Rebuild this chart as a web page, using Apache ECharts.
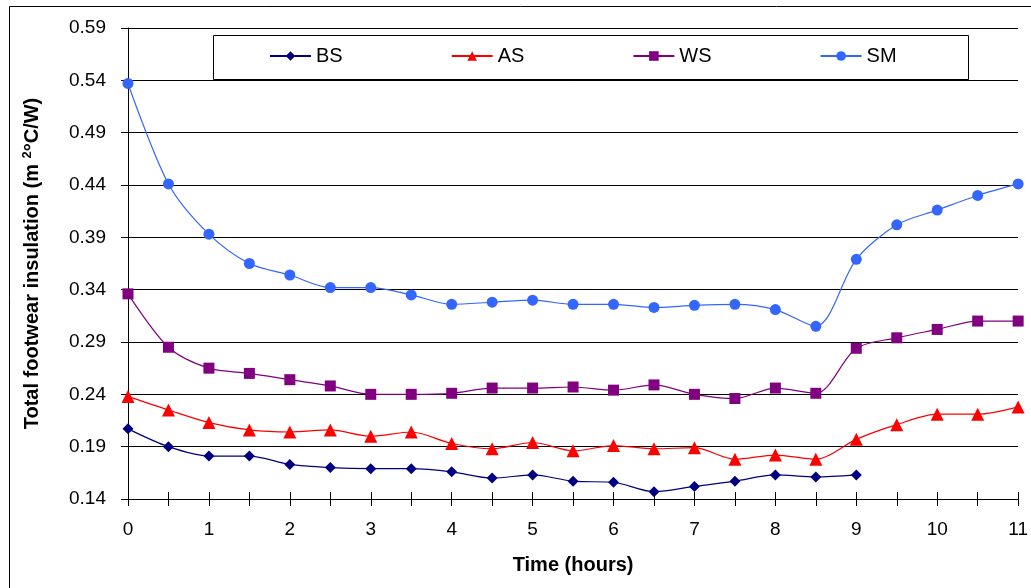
<!DOCTYPE html>
<html>
<head>
<meta charset="utf-8">
<script src="https://cdn.jsdelivr.net/npm/echarts@6/dist/echarts.min.js"></script>
<style>
  html, body { margin: 0; padding: 0; background: #fff; }
  #main { width: 1031px; height: 588px; }
</style>
</head>
<body>
<div id="main"></div>
<script>
// time in hours
var hours = [0, 0.5, 1, 1.5, 2, 2.5, 3, 3.5, 4, 4.5, 5, 5.5, 6, 6.5, 7, 7.5, 8, 8.5, 9, 9.5, 10, 10.5, 11];
var bsData = [0.207, 0.190, 0.181, 0.181, 0.173, 0.170, 0.169, 0.169, 0.166, 0.160, 0.163, 0.157, 0.156, 0.147, 0.152, 0.157, 0.163, 0.161, 0.163];
var asData = [0.238, 0.225, 0.213, 0.206, 0.204, 0.206, 0.200, 0.204, 0.193, 0.188, 0.194, 0.186, 0.191, 0.188, 0.189, 0.178, 0.182, 0.178, 0.197, 0.211, 0.221, 0.221, 0.228];
var wsData = [0.336, 0.285, 0.265, 0.260, 0.254, 0.248, 0.240, 0.240, 0.241, 0.246, 0.246, 0.247, 0.244, 0.249, 0.240, 0.236, 0.246, 0.241, 0.284, 0.294, 0.302, 0.310, 0.310];
var smData = [0.537, 0.441, 0.393, 0.365, 0.354, 0.342, 0.342, 0.335, 0.326, 0.328, 0.330, 0.326, 0.326, 0.323, 0.325, 0.326, 0.321, 0.305, 0.369, 0.402, 0.416, 0.430, 0.441];
var yTicks = [0.14, 0.19, 0.24, 0.29, 0.34, 0.39, 0.44, 0.49, 0.54, 0.59];

// y axis starts at 0.14, ticks every 0.05 -> plot offsets from the base
var base = yTicks[0];

function pairs(vals) {
  return vals.map(function (v, i) {
    return [hours[i], +(v - base).toFixed(4)];
  });
}

function makeSeries(name, vals, color, symbol, size) {
  return {
    name: name,
    type: 'line',
    data: pairs(vals),
    smooth: 0.3,
    symbol: symbol,
    symbolSize: size,
    lineStyle: { color: color, width: 1.2 },
    itemStyle: { color: color },
    emphasis: { disabled: true }
  };
}

var chart = echarts.init(document.getElementById('main'));

var option = {
  animation: false,
  textStyle: { fontFamily: 'Liberation Sans, Arial, sans-serif' },
  grid: { left: 128, right: 6, top: 28, bottom: 89, containLabel: false },
  graphic: [
    {
      type: 'rect',
      shape: { x: 9.5, y: 6.5, width: 1100, height: 700 },
      style: { fill: null, stroke: '#000', lineWidth: 1 },
      silent: true
    },
    {
      type: 'rect',
      shape: { x: 213.5, y: 35.5, width: 755, height: 44 },
      style: { fill: '#fff', stroke: '#000', lineWidth: 1 },
      z: 5,
      silent: true
    }
  ],
  legend: {
    left: 269,
    top: 46,
    padding: 0,
    z: 10,
    itemWidth: 41,
    itemHeight: 12,
    itemGap: 108,
    textStyle: { fontSize: 20, color: '#000', padding: [0, 0, 0, 0] },
    data: ['BS', 'AS', 'WS', 'SM']
  },
  xAxis: [
    {
      type: 'value',
      min: 0,
      max: 11,
      interval: 0.5,
      name: 'Time (hours)',
      nameLocation: 'middle',
      nameGap: 56,
      nameTextStyle: { fontSize: 20, fontWeight: 'bold', color: '#000' },
      axisLine: { show: true, onZero: false, lineStyle: { color: '#000', width: 1 } },
      axisTick: { show: true, inside: false, length: 7, lineStyle: { color: '#000' } },
      axisLabel: {
        fontSize: 19,
        color: '#000',
        margin: 21,
        showMaxLabel: true,
        formatter: function (v) { return v % 1 === 0 ? String(v) : ''; }
      },
      splitLine: { show: false }
    },
    {
      type: 'value',
      position: 'bottom',
      min: 0,
      max: 11,
      interval: 0.5,
      axisLine: { show: false },
      axisTick: { show: true, inside: true, length: 7, lineStyle: { color: '#000' } },
      axisLabel: { show: false },
      splitLine: { show: false }
    }
  ],
  yAxis: {
    type: 'value',
    min: 0,
    max: yTicks[yTicks.length - 1] - base,
    interval: 0.05,
    name: 'Total footwear insulation (m {sup|2}°C/W)',
    nameLocation: 'middle',
    nameGap: 84,
    nameRotate: 90,
    nameTextStyle: {
      fontSize: 20,
      fontWeight: 'bold',
      color: '#000',
      rich: {
        sup: { fontSize: 13, fontWeight: 'bold', color: '#000', padding: [0, 0, 10, 0] }
      }
    },
    axisLine: { show: true, lineStyle: { color: '#000', width: 1 } },
    axisTick: { show: true, inside: false, length: 7, lineStyle: { color: '#000' } },
    axisLabel: {
      fontSize: 19,
      color: '#000',
      margin: 22,
      formatter: function (v) { return (v + base).toFixed(2); }
    },
    splitLine: { show: true, lineStyle: { color: '#000', width: 1 } }
  },
  series: [
    makeSeries('BS', bsData, '#000080', 'diamond', 11),
    makeSeries('AS', asData, '#ff0000', 'triangle', 13),
    makeSeries('WS', wsData, '#800080', 'rect', 11),
    makeSeries('SM', smData, '#3366ff', 'circle', 11)
  ]
};

chart.setOption(option);
</script>
</body>
</html>
